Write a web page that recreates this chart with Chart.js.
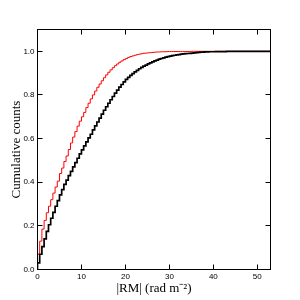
<!DOCTYPE html>
<html><head><meta charset="utf-8">
<script src="https://cdn.jsdelivr.net/npm/chart.js@4/dist/chart.umd.min.js"></script>
<style>html,body{margin:0;padding:0;background:#fff}canvas{display:block}</style>
</head><body>
<canvas id="c" width="300" height="300" style="width:300px;height:300px"></canvas>
<script>
const binEdges = [0,0.5,1,1.5,2,2.5,3,3.5,4,4.5,5,5.5,6,6.5,7,7.5,8,8.5,9,9.5,
10,10.5,11,11.5,12,12.5,13,13.5,14,14.5,15,15.5,16,16.5,17,17.5,18,18.5,19,19.5,
20,20.5,21,21.5,22,22.5,23,23.5,24,24.5,25,25.5,26,26.5,27,27.5,28,28.5,29,29.5,
30,30.5,31,31.5,32,32.5,33,33.5,34,34.5,35,35.5,36,36.5,37,37.5,38,38.5,39,39.5,
40,40.5,41,41.5,42,42.5,43,43.5,44,44.5,45,45.5,46,46.5,47,47.5,48,48.5,49,49.5,
50,50.5,51,51.5,52,52.5,53];

const blackCumulative = [
0.03,0.07,0.105,0.14,0.175,0.205,0.235,0.262,0.29,0.316,
0.342,0.366,0.39,0.41,0.43,0.45,0.47,0.49,0.51,0.53,
0.548,0.567,0.585,0.603,0.62,0.64,0.658,0.676,0.694,0.712,
0.73,0.746,0.762,0.778,0.793,0.808,0.822,0.836,0.848,0.86,
0.871,0.881,0.89,0.898,0.906,0.913,0.92,0.926,0.932,0.937,
0.942,0.947,0.952,0.956,0.96,0.964,0.967,0.97,0.973,0.976,
0.978,0.98,0.982,0.984,0.985,0.987,0.988,0.989,0.99,0.991,
0.992,0.993,0.994,0.995,0.996,0.996,0.997,0.997,0.998,0.998,
0.998,0.999,0.999,0.999,0.999,0.999,
1,1,1,1,1,1,1,1,1,1,1,1,1,1,1,1,1,1,1,1];

const redCumulative = [
0.07,0.13,0.185,0.225,0.26,0.29,0.32,0.35,0.378,0.405,
0.44,0.465,0.495,0.52,0.55,0.58,0.607,0.632,0.657,0.68,
0.70,0.72,0.742,0.762,0.782,0.80,0.818,0.835,0.85,0.865,
0.879,0.892,0.904,0.915,0.925,0.934,0.942,0.95,0.956,0.962,
0.967,0.972,0.976,0.979,0.982,0.985,0.987,0.989,0.991,0.992,
0.993,0.994,0.995,0.996,0.997,0.997,0.998,0.998,0.998,0.999,
0.999,0.999,0.999,0.999,0.999,0.999,0.999,0.999,0.999,0.999,
1,1,1,1,1,1,1,1,1,1,1,1,1,1,1,1,1,1,1,1,
1,1,1,1,1,1,1,1,1,1,1,1,1,1,1,1];

const xTickValues = [0,10,20,30,40,50];
const yTickValues = [0,0.2,0.4,0.6,0.8,1.0];
const xTitle = '|RM| (rad m\u207B\u00B2)';
const yTitle = 'Cumulative counts';

function stepPoints(vals){
  const pts=[{x:binEdges[0],y:0}];
  for(let i=0;i<vals.length;i++) pts.push({x:binEdges[i+1],y:vals[i]});
  return pts;
}

const tickFont = {family:'Liberation Sans', size:8};
const titleFont = {family:'Liberation Serif', size:13};

const frameTicks = {
  id:'frameTicks',
  afterDatasetsDraw(chart){
    const {ctx, chartArea:a, scales:{x,y}} = chart;
    ctx.save();
    ctx.strokeStyle='#000'; ctx.lineWidth=1;
    ctx.strokeRect(a.left,a.top,a.right-a.left,a.bottom-a.top);
    const L=5;
    ctx.beginPath();
    x.ticks.forEach(t=>{
      const p=Math.round(x.getPixelForValue(t.value)-0.5)+0.5;
      ctx.moveTo(p,a.bottom); ctx.lineTo(p,a.bottom-L);
      ctx.moveTo(p,a.top); ctx.lineTo(p,a.top+L);
    });
    y.ticks.forEach(t=>{
      const p=Math.round(y.getPixelForValue(t.value)-0.5)+0.5;
      ctx.moveTo(a.left,p); ctx.lineTo(a.left+L,p);
      ctx.moveTo(a.right,p); ctx.lineTo(a.right-L,p);
    });
    ctx.stroke();
    ctx.restore();
  }
};

new Chart(document.getElementById('c'), {
  type:'line',
  data:{datasets:[
    {label:'black', data:stepPoints(blackCumulative), borderColor:'#000', borderWidth:1.7, borderJoinStyle:'miter', stepped:'after', pointRadius:0, fill:false},
    {label:'red', data:stepPoints(redCumulative), borderColor:'#ff0000', borderWidth:1, stepped:'after', pointRadius:0, fill:false}
  ]},
  options:{
    responsive:false, animation:false, devicePixelRatio:1,
    layout:{padding:{left:0,right:29.5,top:29.5,bottom:0}},
    plugins:{legend:{display:false}, tooltip:{enabled:false}},
    scales:{
      x:{type:'linear', min:0, max:53,
        afterBuildTicks:s=>{s.ticks=xTickValues.map(v=>({value:v}));},
        afterFit:s=>{s.height=30.5;},
        grid:{display:false, drawTicks:false}, border:{display:false},
        ticks:{padding:2, font:tickFont, color:'#000', maxRotation:0, autoSkip:false, callback:v=>String(v)},
        title:{display:true, text:xTitle, font:titleFont, color:'#000', padding:{top:0,bottom:4}}
      },
      y:{type:'linear', min:0, max:1.1,
        afterBuildTicks:s=>{s.ticks=yTickValues.map(v=>({value:v}));},
        afterFit:s=>{s.width=37.5;},
        grid:{display:false, drawTicks:false}, border:{display:false},
        ticks:{padding:3, font:tickFont, color:'#000', autoSkip:false, callback:v=>Number(v).toFixed(1)},
        title:{display:true, text:yTitle, font:titleFont, color:'#000', padding:{top:9,bottom:0}}
      }
    }
  },
  plugins:[frameTicks]
});
</script>
</body></html>
